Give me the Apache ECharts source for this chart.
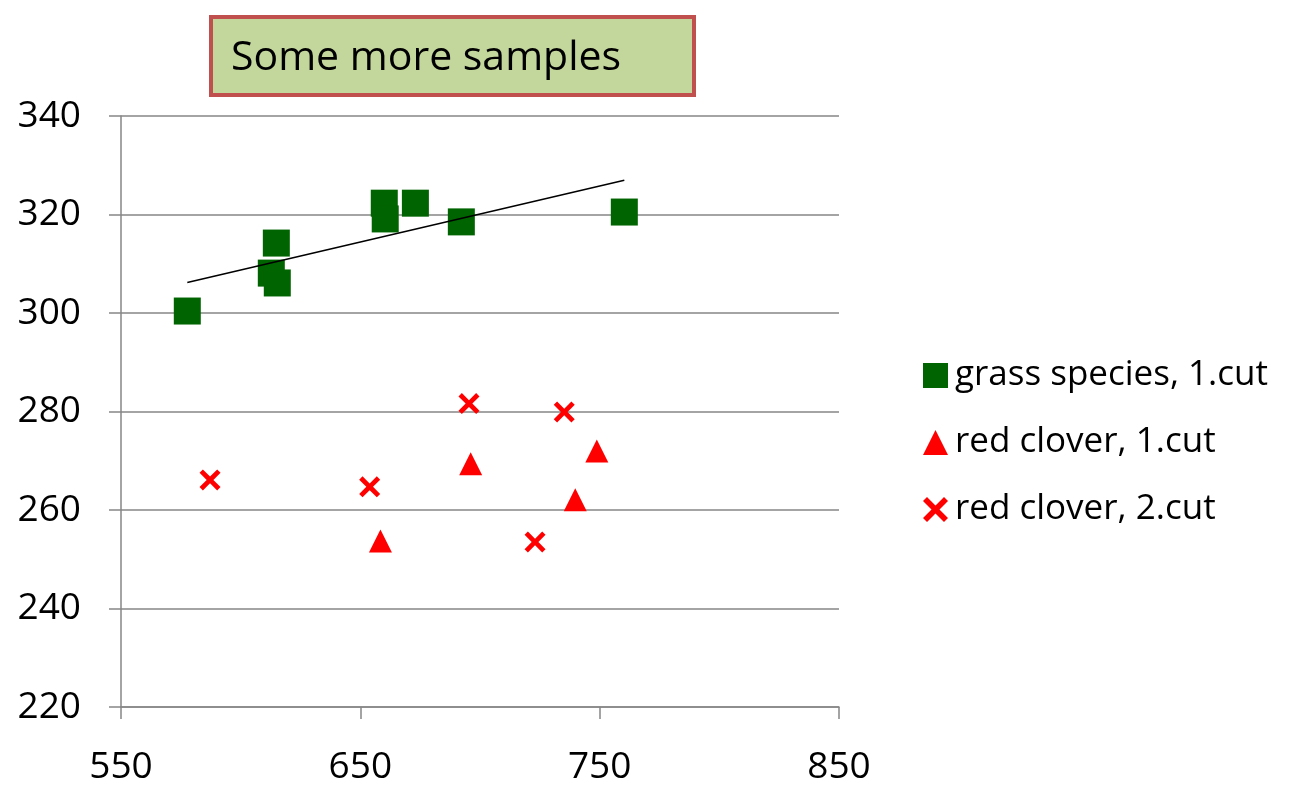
<!DOCTYPE html>
<html><head><meta charset="utf-8">
<script src="https://cdn.jsdelivr.net/npm/echarts@6/dist/echarts.min.js"></script>
<style>html,body{margin:0;padding:0;background:#fff}#c{width:1297px;height:786px}</style>
</head><body><div id="c"></div>
<script>
const xTicks = [550, 650, 750, 850];
const yTicks = [220, 240, 260, 280, 300, 320, 340];
const grassX = [577.7, 614.9, 612.8, 615.3, 660.0, 660.4, 673.0, 692.2, 760.3];
const grassY = [300.4, 314.2, 308.1, 306.1, 322.3, 319.1, 322.3, 318.5, 320.5];
const clover1X = [658.4, 696.1, 748.8, 739.8];
const clover1Y = [253.7, 269.4, 272.0, 262.1];
const clover2X = [587.2, 653.9, 695.4, 735.2, 723.0];
const clover2Y = [266.1, 264.7, 281.6, 279.9, 253.5];
const seriesNames = ['grass species, 1.cut', 'red clover, 1.cut', 'red clover, 2.cut'];
const titleText = 'Some more samples';

function pairs(xs, ys){ return xs.map((x,i)=>[x, ys[i]]); }
// linear trendline for grass series (least squares)
function trend(xs, ys){
  const n = xs.length;
  const mx = xs.reduce((a,b)=>a+b,0)/n, my = ys.reduce((a,b)=>a+b,0)/n;
  let sxy=0, sxx=0;
  for(let i=0;i<n;i++){ sxy+=(xs[i]-mx)*(ys[i]-my); sxx+=(xs[i]-mx)**2; }
  const b = sxy/sxx, a = my - b*mx;
  const x0 = Math.min(...xs), x1 = Math.max(...xs);
  return [[x0, a+b*x0],[x1, a+b*x1]];
}
const crossPath = 'path://M0,1.6 L1.6,0 L5,3.4 L8.4,0 L10,1.6 L6.6,5 L10,8.4 L8.4,10 L5,6.6 L1.6,10 L0,8.4 L3.4,5 Z';
const FONT = 'Open Sans';
const chart = echarts.init(document.getElementById('c'), null, {renderer:'canvas'});
chart.setOption({
  animation:false,
  backgroundColor:'#ffffff',
  textStyle:{fontFamily:FONT},
  grid:{left:121, right:458, top:116, bottom:78, containLabel:false},
  xAxis:{type:'value', min:xTicks[0], max:xTicks[xTicks.length-1], interval:100,
    axisLine:{show:true, onZero:false, lineStyle:{color:'#868686', width:1.5}},
    axisTick:{show:true, length:12, lineStyle:{color:'#868686', width:1.5}},
    axisLabel:{fontSize:37, color:'#000', margin:42, fontFamily:FONT},
    splitLine:{show:false}},
  yAxis:{type:'value', min:yTicks[0], max:yTicks[yTicks.length-1], interval:20,
    axisLine:{show:true, onZero:false, lineStyle:{color:'#868686', width:1.5}},
    axisTick:{show:true, length:12, lineStyle:{color:'#868686', width:1.5}},
    axisLabel:{fontSize:37, color:'#000', margin:40, fontFamily:FONT},
    splitLine:{show:true, lineStyle:{color:'#868686', width:1.5}}},
  legend:{data:seriesNames, orient:'vertical', left:918, top:353, itemGap:32,
    itemWidth:25, itemHeight:25, textStyle:{fontSize:35, color:'#000', fontFamily:FONT, padding:[0,0,0,2]}},
  graphic:[
    {type:'rect', z:10, shape:{x:211, y:17, width:483, height:78},
      style:{fill:'#c3d69b', stroke:'#c0504d', lineWidth:4}},
    {type:'text', z:11, x:231, y:58, style:{text:titleText, fontSize:41, fill:'#000', fontFamily:FONT, verticalAlign:'middle'}}
  ],
  series:[
    {name:seriesNames[0], type:'scatter', data:pairs(grassX, grassY), symbol:'rect', symbolSize:27,
      itemStyle:{color:'#006400', opacity:1}, z:3},
    {name:seriesNames[1], type:'scatter', data:pairs(clover1X, clover1Y), symbol:'triangle', symbolSize:[23,23],
      itemStyle:{color:'#ff0000', opacity:1}, z:3},
    {name:seriesNames[2], type:'scatter', data:pairs(clover2X, clover2Y), symbol:crossPath, symbolSize:[21,21],
      itemStyle:{color:'#ff0000', opacity:1}, z:3},
    {name:'trend', type:'line', data:trend(grassX, grassY), symbol:'none', silent:true,
      lineStyle:{color:'#000', width:1.5}, z:4}
  ]
});
</script></body></html>
